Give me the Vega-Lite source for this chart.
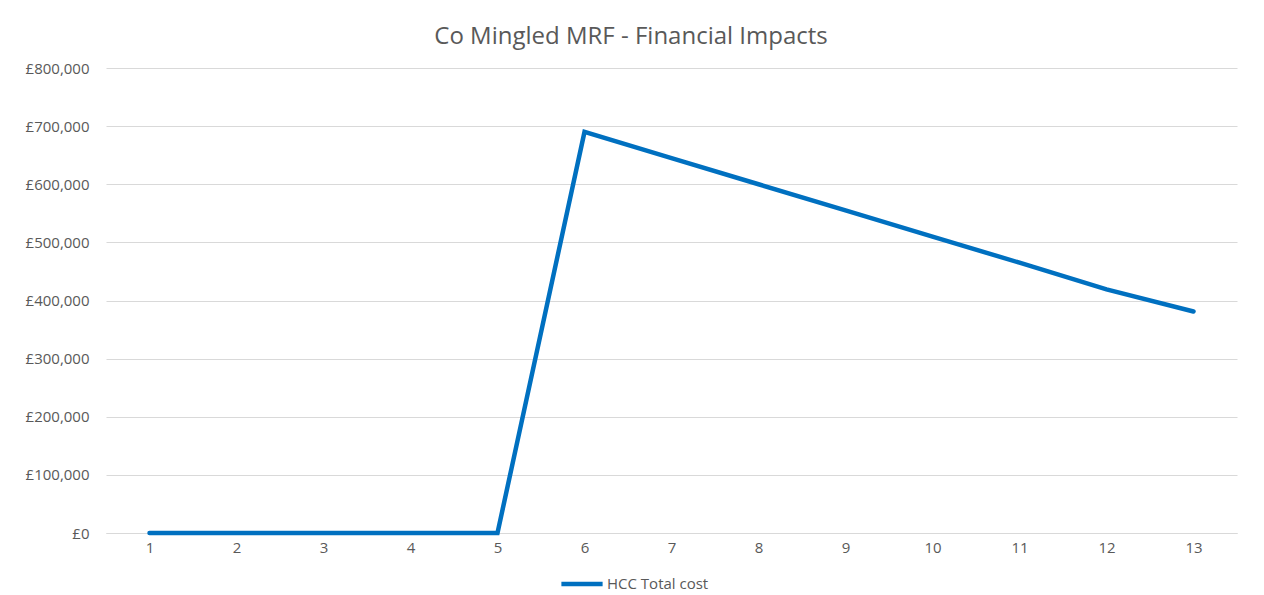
{
  "$schema": "https://vega.github.io/schema/vega-lite/v6.json",
  "width": 1131,
  "height": 465,
  "autosize": "none",
  "padding": {"left": 106, "top": 68, "right": 27, "bottom": 62},
  "background": "white",
  "title": {
    "text": "Co Mingled MRF - Financial Impacts",
    "fontSize": 24,
    "font": "Open Sans",
    "fontWeight": "normal",
    "color": "#595959",
    "anchor": "middle",
    "frame": "bounds",
    "offset": 12
  },
  "data": {
    "values": [
      {"year": 1, "cost": 0, "series": "HCC Total cost"},
      {"year": 2, "cost": 0, "series": "HCC Total cost"},
      {"year": 3, "cost": 0, "series": "HCC Total cost"},
      {"year": 4, "cost": 0, "series": "HCC Total cost"},
      {"year": 5, "cost": 0, "series": "HCC Total cost"},
      {"year": 6, "cost": 690000, "series": "HCC Total cost"},
      {"year": 7, "cost": 645000, "series": "HCC Total cost"},
      {"year": 8, "cost": 600000, "series": "HCC Total cost"},
      {"year": 9, "cost": 555000, "series": "HCC Total cost"},
      {"year": 10, "cost": 510000, "series": "HCC Total cost"},
      {"year": 11, "cost": 465000, "series": "HCC Total cost"},
      {"year": 12, "cost": 419000, "series": "HCC Total cost"},
      {"year": 13, "cost": 381000, "series": "HCC Total cost"}
    ]
  },
  "mark": {"type": "line", "strokeWidth": 4.5, "strokeCap": "round", "strokeJoin": "miter"},
  "encoding": {
    "x": {
      "field": "year",
      "type": "ordinal",
      "scale": {"type": "point", "padding": 0.5},
      "axis": {
        "title": null,
        "labelAngle": 0,
        "domain": true,
        "domainColor": "#d9d9d9",
        "ticks": false,
        "grid": false,
        "labelPadding": 7,
        "labelFontSize": 15,
        "labelFont": "Open Sans",
        "labelColor": "#595959"
      }
    },
    "y": {
      "field": "cost",
      "type": "quantitative",
      "scale": {"domain": [0, 800000], "nice": false},
      "axis": {
        "title": null,
        "values": [0, 100000, 200000, 300000, 400000, 500000, 600000, 700000, 800000],
        "labelExpr": "'£' + format(datum.value, ',')",
        "domain": false,
        "ticks": false,
        "gridColor": "#d9d9d9",
        "gridWidth": 1,
        "labelPadding": 17,
        "labelFontSize": 15,
        "labelFont": "Open Sans",
        "labelColor": "#595959"
      }
    },
    "color": {
      "field": "series",
      "type": "nominal",
      "scale": {"range": ["#0070C0"]},
      "legend": {
        "title": null,
        "orient": "none",
        "legendX": 453,
        "legendY": 493,
        "symbolType": "stroke",
        "symbolSize": 1700,
        "symbolStrokeWidth": 4.5,
        "labelFontSize": 15,
        "labelFont": "Open Sans",
        "labelColor": "#595959",
        "labelOffset": 2
      }
    }
  },
  "config": {"view": {"stroke": null}}
}
